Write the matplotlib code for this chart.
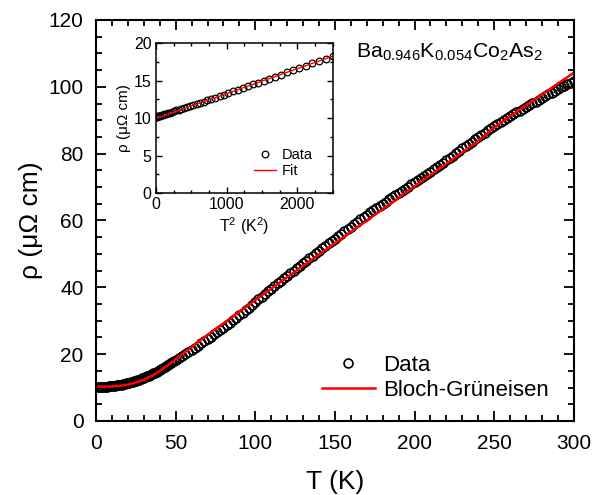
import matplotlib
matplotlib.use('Agg')
import matplotlib.pyplot as plt
from matplotlib.ticker import MultipleLocator
import numpy as np

plt.rcParams['font.family'] = ['Liberation Sans', 'DejaVu Sans']
plt.rcParams['mathtext.fontset'] = 'custom'
plt.rcParams['mathtext.rm'] = 'Liberation Sans'
plt.rcParams['mathtext.it'] = 'Liberation Sans:italic'

# measured data, T in K, rho in uOhm cm
T_low = list(range(1, 51))
rho_low = [10.15, 10.16, 10.18, 10.20, 10.23, 10.26, 10.30, 10.34, 10.39, 10.45,
           10.51, 10.58, 10.66, 10.74, 10.83, 10.92, 11.02, 11.13, 11.24, 11.36,
           11.49, 11.62, 11.69, 11.85, 12.01, 12.18, 12.36, 12.54, 12.73, 12.93,
           13.13, 13.34, 13.56, 13.78, 14.01, 14.25, 14.49, 14.74, 14.99, 15.26,
           15.53, 15.80, 16.09, 16.38, 16.67, 16.98, 17.29, 17.60, 17.93, 18.26]
T_high = list(range(52, 301, 2))
rho_high = [18.9, 19.5, 20.1, 20.7, 21.3,
            21.9, 22.5, 23.2, 23.8, 24.5,
            25.2, 25.9, 26.5, 27.2, 27.9,
            28.6, 29.4, 30.1, 30.9, 31.6,
            32.4, 33.1, 33.9, 34.8, 35.6,
            36.4, 37.2, 38.0, 38.8, 39.6,
            40.4, 41.2, 41.9, 42.7, 43.5,
            44.3, 45.0, 45.8, 46.5, 47.3,
            48.0, 48.8, 49.5, 50.3, 51.0,
            51.7, 52.4, 53.2, 53.9, 54.6,
            55.3, 56.1, 56.8, 57.5, 58.2,
            58.9, 59.6, 60.3, 61.0, 61.7,
            62.4, 63.0, 63.7, 64.3, 65.0,
            65.6, 66.3, 66.9, 67.6, 68.2,
            68.8, 69.5, 70.1, 70.8, 71.4,
            72.0, 72.7, 73.3, 74.0, 74.6,
            75.3, 76.0, 76.7, 77.3, 78.0,
            78.7, 79.4, 80.2, 80.9, 81.6,
            82.3, 82.9, 83.6, 84.3, 85.0,
            85.7, 86.3, 87.0, 87.7, 88.4,
            89.0, 89.5, 90.1, 90.7, 91.3,
            91.8, 92.4, 92.9, 93.5, 94.0,
            94.5, 95.1, 95.6, 96.2, 96.8,
            97.3, 97.8, 98.3, 98.8, 99.3,
            99.8, 100.3, 100.7, 101.2, 101.6]

# Bloch-Grueneisen fit
T_fit = [0, 5, 10, 15, 20, 25, 30, 35, 40, 45, 50, 60, 70, 80, 90, 100, 110, 120,
         130, 140, 150, 160, 170, 180, 190, 200, 210, 220, 230, 240, 250, 260,
         270, 280, 290, 300]
rho_fit = [10.3, 10.3, 10.35, 10.5, 10.9, 11.5, 12.3, 13.5, 15.0, 16.7, 18.5, 22.1,
           25.8, 29.2, 32.7, 36.2, 39.6, 43.0, 46.4, 49.8, 53.2, 56.6, 60.0, 63.4,
           66.8, 70.2, 73.6, 77.0, 80.4, 83.8, 87.8, 91.2, 94.5, 97.7, 101.0, 104.2]

# inset: linear fit in T^2
T2_fit = [0, 500, 1000, 1500, 2000, 2500]
rho_T2_fit = [9.93, 11.60, 13.26, 14.93, 16.59, 18.26]

T = np.array(T_low + T_high)
rho = np.array(rho_low + rho_high)

fig = plt.figure(figsize=(6.04, 4.95), dpi=100)
ax = fig.add_axes([0.159, 0.1495, 0.791, 0.8101])

ax.plot(T, rho, 'o', mfc='none', mec='black', ms=6.4, mew=1.2, label='Data')
ax.plot(T_fit, rho_fit, '-', color='red', lw=1.8, label='Bloch-Grüneisen')

ax.set_xlim(0, 300)
ax.set_ylim(0, 120)
ax.xaxis.set_major_locator(MultipleLocator(50))
ax.xaxis.set_minor_locator(MultipleLocator(10))
ax.yaxis.set_major_locator(MultipleLocator(20))
ax.yaxis.set_minor_locator(MultipleLocator(5))
ax.tick_params(which='both', direction='in', top=True, right=True, width=1.3)
ax.tick_params(which='major', length=7, labelsize=15)
ax.tick_params(which='minor', length=4)
ax.tick_params(axis='x', which='major', pad=9.5)
ax.tick_params(axis='y', which='major', pad=9)
for s in ax.spines.values():
    s.set_linewidth(1.5)
ax.set_xlabel('T (K)', fontsize=19, labelpad=12)
ax.set_ylabel('ρ (μΩ cm)', fontsize=19, labelpad=4)

ax.text(0.545, 0.905, r'Ba$_{\mathregular{0.946}}$K$_{\mathregular{0.054}}$Co$_{\mathregular{2}}$As$_{\mathregular{2}}$',
        transform=ax.transAxes, fontsize=15.3)

leg = ax.legend(loc='lower right', bbox_to_anchor=(0.985, 0.005), frameon=False,
                fontsize=16, numpoints=1, handlelength=2.4, handletextpad=0.36,
                labelspacing=0.2, borderaxespad=0.4)

# inset
ins = fig.add_axes([0.258, 0.610, 0.293, 0.303])
ins.plot(T[:50] ** 2, rho[:50], 'o', mfc='none', mec='black', ms=4.8, mew=0.9, label='Data')
ins.plot(T2_fit, rho_T2_fit, '-', color='red', lw=1.0, label='Fit')
ins.set_xlim(0, 2500)
ins.set_ylim(0, 20)
ins.xaxis.set_major_locator(MultipleLocator(1000))
ins.xaxis.set_minor_locator(MultipleLocator(250))
ins.yaxis.set_major_locator(MultipleLocator(5))
ins.yaxis.set_minor_locator(MultipleLocator(2.5))
ins.tick_params(which='both', direction='in', top=True, right=True, width=1.0)
ins.tick_params(which='major', length=4.5, labelsize=11.5, pad=3)
ins.tick_params(which='minor', length=2.5)
for s in ins.spines.values():
    s.set_linewidth(1.1)
ins.set_xlabel(r'T$^{\mathregular{2}}$ (K$^{\mathregular{2}}$)', fontsize=11.5, labelpad=2)
ins.set_ylabel('ρ (μΩ cm)', fontsize=11, labelpad=2)
ins.legend(loc='lower right', bbox_to_anchor=(0.96, 0.01), frameon=False,
           fontsize=10.5, numpoints=1, handlelength=1.5, handletextpad=0.4,
           labelspacing=0.17)

fig.savefig('out.png', dpi=100)
